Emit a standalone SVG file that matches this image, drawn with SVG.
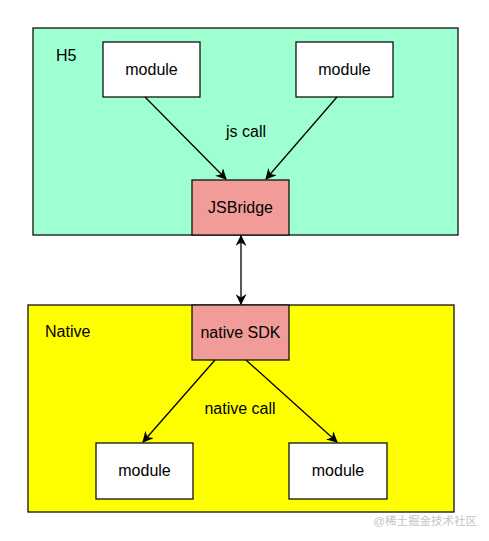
<svg xmlns="http://www.w3.org/2000/svg" width="489" height="541" viewBox="0 0 489 541">
<defs>
<style>
text{font-family:"Liberation Sans",Arial,sans-serif;fill:#000;}
.lbl{font-size:16px;}
.mid{text-anchor:middle;}
.box{stroke:#111;stroke-width:1.3;}
.mod{fill:#fff;}
.pink{fill:#F19C99;}
.edge{stroke:#000;stroke-width:1.3;fill:none;}
.wm{font-family:"Liberation Sans","Noto Sans CJK SC",sans-serif;font-size:11.5px;fill:#c4c4c4;text-anchor:end;}
</style>
<marker id="ah" viewBox="0 0 10 10" refX="9" refY="5" markerWidth="11" markerHeight="11" markerUnits="userSpaceOnUse" orient="auto-start-reverse">
<path d="M0,0 L10,5 L0,10 L3,5 z" fill="#000"/>
</marker>
</defs>
<rect width="489" height="541" fill="#fff"/>
<g id="h5">
<rect class="box" x="33" y="28" width="425" height="207" fill="#9EFFD1"/>
<text class="lbl" x="56" y="61">H5</text>
</g>
<g id="native">
<rect class="box" x="28" y="305" width="426" height="207" fill="#FFFF00"/>
<text class="lbl" x="45" y="337">Native</text>
</g>
<g id="module-top-left">
<rect class="box mod" x="103" y="42" width="97" height="55"/>
<text class="lbl mid" x="151.5" y="75">module</text>
</g>
<g id="module-top-right">
<rect class="box mod" x="296" y="42" width="97" height="55"/>
<text class="lbl mid" x="344.5" y="75">module</text>
</g>
<g id="jsbridge">
<rect class="box pink" x="192" y="180" width="97" height="55"/>
<text class="lbl mid" x="240.5" y="213">JSBridge</text>
</g>
<g id="native-sdk">
<rect class="box pink" x="192" y="305" width="97" height="55"/>
<text class="lbl mid" x="240.5" y="338">native SDK</text>
</g>
<g id="module-bottom-left">
<rect class="box mod" x="96" y="443" width="97" height="56"/>
<text class="lbl mid" x="144.5" y="476">module</text>
</g>
<g id="module-bottom-right">
<rect class="box mod" x="289" y="443" width="98" height="56"/>
<text class="lbl mid" x="338" y="476">module</text>
</g>
<g id="connectors">
<line class="edge" x1="145" y1="97" x2="226" y2="179" marker-end="url(#ah)"/>
<line class="edge" x1="337" y1="97" x2="266" y2="179" marker-end="url(#ah)"/>
<line class="edge" x1="241" y1="236" x2="241" y2="304" marker-start="url(#ah)" marker-end="url(#ah)"/>
<line class="edge" x1="215" y1="360" x2="143" y2="442" marker-end="url(#ah)"/>
<line class="edge" x1="246" y1="360" x2="337" y2="442" marker-end="url(#ah)"/>
<text class="lbl mid" x="246" y="137">js call</text>
<text class="lbl mid" x="240" y="414">native call</text>
</g>
<text class="wm" x="477" y="525">@稀土掘金技术社区</text>
</svg>
